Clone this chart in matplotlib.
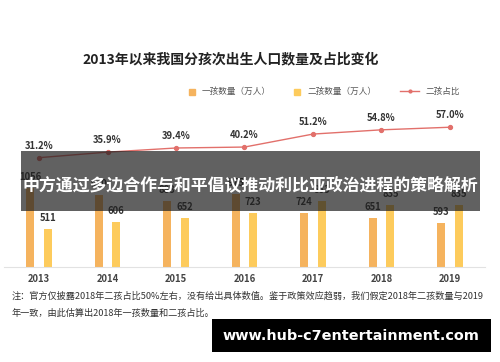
import matplotlib
matplotlib.use('Agg')
import matplotlib.pyplot as plt
from matplotlib.patches import Rectangle

plt.rcParams['font.family'] = ['Noto Sans CJK SC', 'DejaVu Sans']

# data
years = ['2013', '2014', '2015', '2016', '2017', '2018', '2019']
first_child = [1056, 970, 888, 975, 724, 651, 593]
second_child = [511, 606, 652, 723, 883, 835, 835]
second_share = [31.2, 35.9, 39.4, 40.2, 51.2, 54.8, 57.0]

title = '2013年以来我国分孩次出生人口数量及占比变化'
legend_labels = ['一孩数量（万人）', '二孩数量（万人）', '二孩占比']
note_lines = ['注：官方仅披露2018年二孩占比50%左右，没有给出具体数值。鉴于政策效应趋弱，我们假定2018年二孩数量与2019',
              '年一致，由此估算出2018年一孩数量和二孩占比。']
banner = '中方通过多边合作与和平倡议推动利比亚政治进程的策略解析'
watermark = 'www.hub-c7entertainment.com'

c1 = '#F5B35E'
c2 = '#FDCB5C'
cl = '#E2706B'

W, H = 500, 362
fig = plt.figure(figsize=(W / 100, H / 100), dpi=100)

def fx(px):
    return px / W

def fy(py):
    return 1 - py / H

ax = fig.add_axes([fx(4), fy(266.7), 481 / W, 156.7 / H])
x = list(range(len(years)))
bw = 0.12
off = 0.128
ax.bar([i - off for i in x], first_child, bw, color=c1)
ax.bar([i + off for i in x], second_child, bw, color=c2)
for i in x:
    ax.annotate(str(first_child[i]), (i - off, first_child[i]), xytext=(0, 8), textcoords='offset points',
                ha='center', va='center', fontsize=6.8, color='#333333', fontweight='bold')
    ax.annotate(str(second_child[i]), (i + off, second_child[i]), xytext=(0, 8), textcoords='offset points',
                ha='center', va='center', fontsize=6.8, color='#333333', fontweight='bold')
ax.set_xlim(-0.511, 6.511)
ax.set_ylim(0, 2115)
ax.set_xticks(x)
ax.set_xticklabels(years, fontsize=6.8, color='#444444', fontweight='bold')
ax.tick_params(axis='x', length=0, pad=5)
ax.set_yticks([])
for s in ['top', 'left', 'right']:
    ax.spines[s].set_visible(False)
ax.spines['bottom'].set_color('#e2e2e2')

ax2 = ax.twinx()
ax2.plot(x, second_share, color=cl, lw=1.0, marker='o', ms=2.8)
for i in x:
    ax2.annotate('%.1f%%' % second_share[i], (i, second_share[i]), xytext=(0, 8.6), textcoords='offset points',
                 ha='center', va='center', fontsize=6.8, color='#333333', fontweight='bold')
ax2.set_ylim(-61.2, 71.6)
ax2.set_yticks([])
for s in ax2.spines.values():
    s.set_visible(False)

# title and legend
fig.text(fx(231), fy(59), title, ha='center', va='center', fontsize=10, fontweight='bold', color='#222222')
fig.add_artist(Rectangle((fx(189), fy(94.5)), 6 / W, 6 / H, transform=fig.transFigure, color=c1))
fig.text(fx(202), fy(91), legend_labels[0], ha='left', va='center', fontsize=6.2, color='#555555')
fig.add_artist(Rectangle((fx(294), fy(94.5)), 6 / W, 6 / H, transform=fig.transFigure, color=c2))
fig.text(fx(307), fy(91), legend_labels[1], ha='left', va='center', fontsize=6.2, color='#555555')
fig.add_artist(plt.Line2D([fx(400), fx(419)], [fy(91), fy(91)], transform=fig.transFigure, color=cl, lw=1))
fig.add_artist(plt.Line2D([fx(409.5)], [fy(91)], transform=fig.transFigure, color=cl, marker='o', ms=2))
fig.text(fx(425), fy(91), legend_labels[2], ha='left', va='center', fontsize=6.2, color='#555555')

# footnote
fig.text(fx(12), fy(296), note_lines[0], ha='left', va='center', fontsize=6.6, color='#333333')
fig.text(fx(12), fy(313), note_lines[1], ha='left', va='center', fontsize=6.6, color='#333333')

# overlay banner
fig.add_artist(Rectangle((fx(21), fy(211)), 459 / W, 60 / H, transform=fig.transFigure,
                         color='#1e1e1e', alpha=0.7, zorder=10, lw=0))
fig.text(fx(250.5), fy(185), banner, ha='center', va='center', fontsize=12.2, fontweight='bold',
         color='white', zorder=11)

# watermark
fig.add_artist(Rectangle((fx(212), fy(352)), 279 / W, 33 / H, transform=fig.transFigure,
                         color='black', zorder=10, lw=0))
fig.text(fx(351), fy(335.5), watermark, ha='center', va='center', fontsize=10.4, fontweight='bold',
         color='white', zorder=11, family='DejaVu Sans')

fig.savefig('out.png', dpi=100)
